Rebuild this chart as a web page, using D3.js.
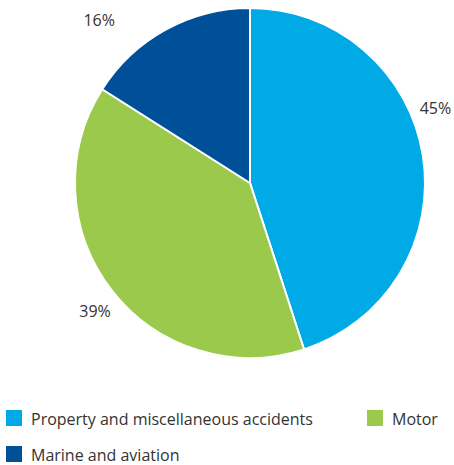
<!DOCTYPE html>
<html>
<head>
<meta charset="utf-8">
<script src="https://cdn.jsdelivr.net/npm/d3@7"></script>
<style>
  body { margin: 0; background: #fff; }
  svg { display: block; font-family: "Open Sans", sans-serif; }
</style>
</head>
<body>
<div id="chart"></div>
<script>
// slice data, clockwise from 12 o'clock
const categories = ["Property and miscellaneous accidents", "Motor", "Marine and aviation"];
const shares = [45, 39, 16];
const colors = ["#00aae7", "#9bc94b", "#004f99"];

const width = 454, height = 465;
const cx = 250, cy = 183, radius = 175;

const svg = d3.select("#chart")
    .append("svg")
    .attr("width", width)
    .attr("height", height);

const pie = d3.pie().sort(null).value((d) => d.value);
const arcs = pie(categories.map((c, i) => ({ name: c, value: shares[i], color: colors[i] })));

const arc = d3.arc().innerRadius(0).outerRadius(radius);

const g = svg.append("g")
    .attr("transform", `translate(${cx},${cy})`);

g.selectAll("path")
    .data(arcs)
    .enter()
    .append("path")
    .attr("d", arc)
    .style("fill", (d) => d.data.color)
    .style("stroke", "#fff")
    .style("stroke-width", 2);

// percentage labels just outside the rim
const labelArc = d3.arc().innerRadius(radius + 30).outerRadius(radius + 30);
const labelNudge = [[-17, -43], [7, 3], [-52, 17]];

g.selectAll("text.pct")
    .data(arcs)
    .enter()
    .append("text")
    .attr("class", "pct")
    .attr("transform", (d, i) => {
        const [x, y] = labelArc.centroid(d);
        return `translate(${x + labelNudge[i][0]},${y + labelNudge[i][1]})`;
    })
    .attr("text-anchor", "middle")
    .attr("dy", "0.35em")
    .style("font-size", "16px")
    .style("fill", "#333")
    .text((d) => d.data.value + "%");

// legend
const legendPos = [[6, 410], [367, 410], [6, 446]];
const legend = svg.selectAll("g.legend")
    .data(arcs)
    .enter()
    .append("g")
    .attr("class", "legend")
    .attr("transform", (d, i) => `translate(${legendPos[i][0]},${legendPos[i][1]})`);

legend.append("rect")
    .attr("width", 16)
    .attr("height", 16)
    .style("fill", (d) => d.data.color);

legend.append("text")
    .attr("x", 25)
    .attr("y", 9)
    .attr("dy", "0.35em")
    .style("font-size", "16px")
    .style("fill", "#333")
    .text((d) => d.data.name);
</script>
</body>
</html>
